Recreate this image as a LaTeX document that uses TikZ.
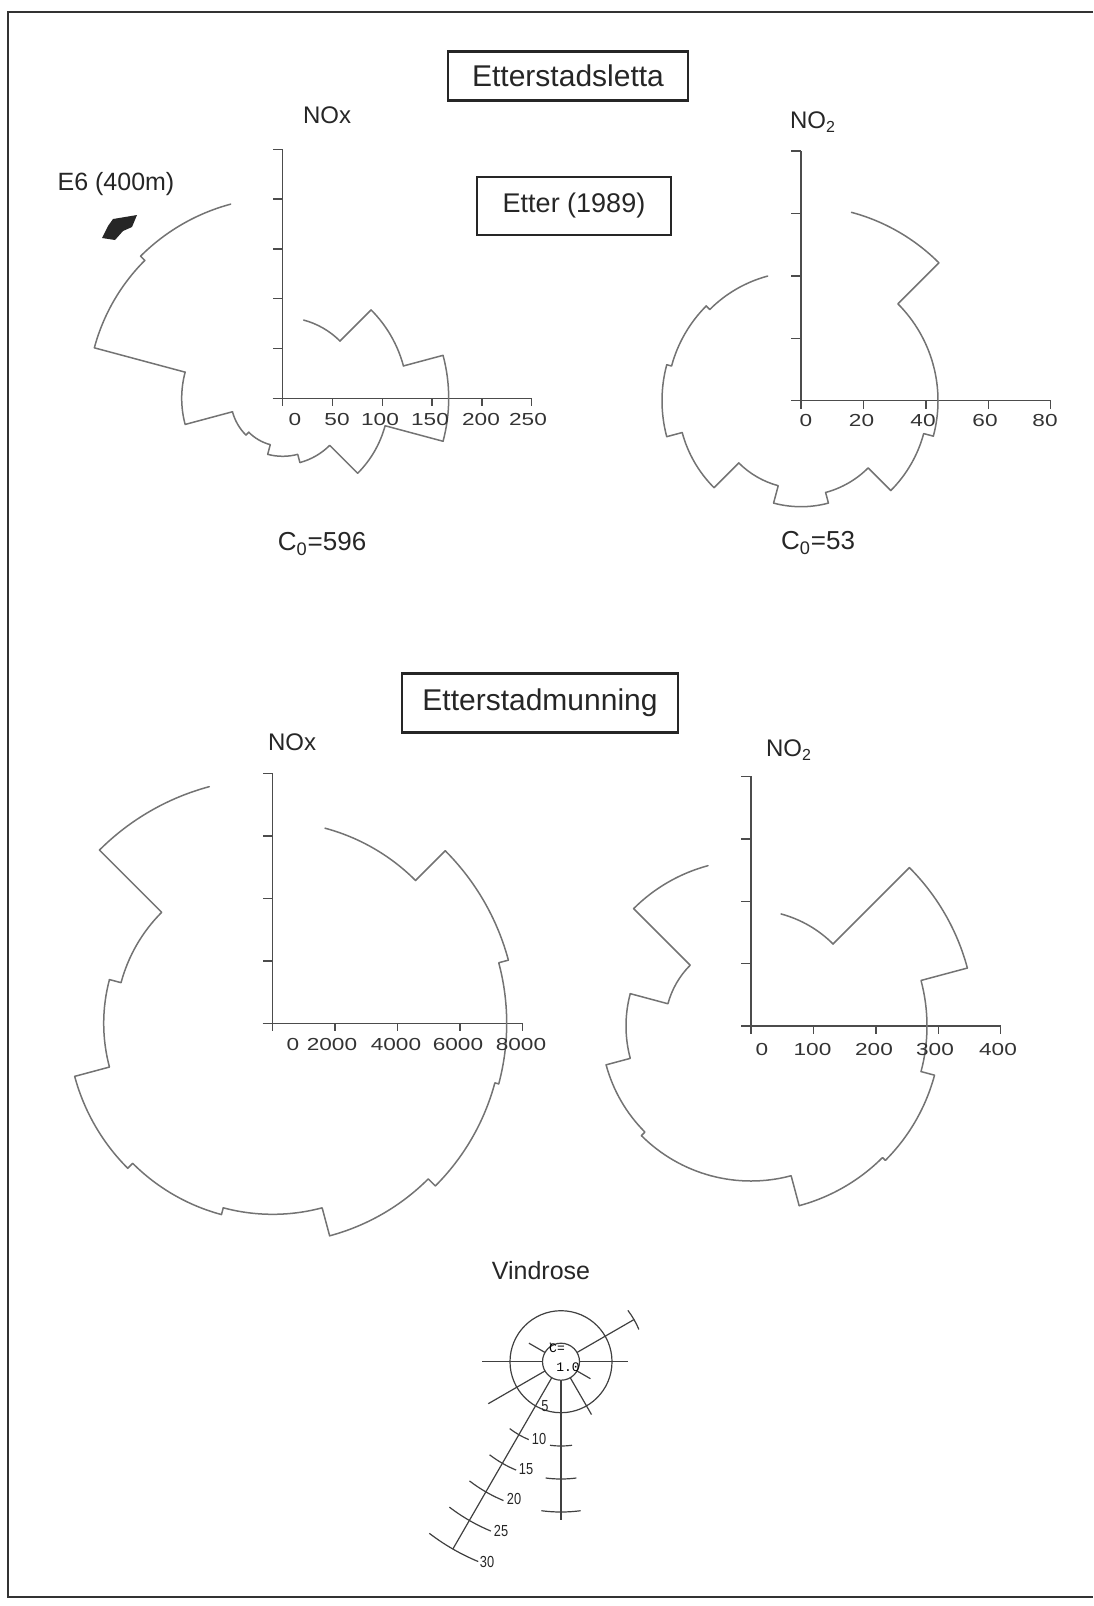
\documentclass[tikz,border=0pt]{standalone}
\usepackage{fontspec}
\setmainfont{Liberation Sans}
\setmonofont{Liberation Mono}
\newfontfamily\plotfont[FakeStretch=1.3]{Liberation Sans}
\newfontfamily\narrowfont[FakeStretch=0.8]{Liberation Sans}
\usepackage{tikz}
\tikzstyle{titlebox} = [rectangle, draw=black!85, line width=1.1pt, text=black!85, font=\fontsize{15}{18}\selectfont]
\tikzstyle{gas} = [text=black!85, font=\fontsize{12}{14}\selectfont]
\tikzstyle{ticklabel} = [text=black!80, inner sep=0pt, font=\plotfont\fontsize{8.7}{10}\selectfont]
\tikzstyle{axisline} = [draw=black!70, line width=0.7pt]
\tikzstyle{roseline} = [draw=black!55, line width=0.75pt, line cap=round, line join=round]
\tikzstyle{windline} = [draw=black!75, line width=0.6pt]
\tikzstyle{windlabel} = [text=black!85, inner sep=0pt, font=\narrowfont\fontsize{8}{9}\selectfont]
% axes of one rose: #1 intervals, #2 spacing
\newcommand{\roseaxes}[2]{%
  \draw[axisline] (-10,0) -- ({#1*#2},0);
  \draw[axisline] (0,-3) -- (0,{#1*#2});
  \foreach \k in {0,...,#1} {
    \draw[axisline] ({\k*#2},0) -- ({\k*#2},-8);
    \draw[axisline] (0,{\k*#2}) -- (-10,{\k*#2});
  }
}
% rose curve: 30 degree sectors clockwise from 75 degrees
\newcommand{\rosecurve}[2]{%
  \foreach \r [count=\i, remember=\r as \rp (initially #1)] in {#2} {
    \pgfmathsetmacro\sa{105-30*\i}
    \pgfmathsetmacro\ea{75-30*\i}
    \draw[roseline] (\sa:\rp) -- (\sa:\r) arc[start angle=\sa, end angle=\ea, radius=\r];
  }
}
\begin{document}
\begin{tikzpicture}[x=0.5pt, y=-0.5pt]
\useasboundingbox (0,0) rectangle (1093,1606);
\draw[line width=1.1pt, black!80] (1093,12) -- (8,12) -- (8,1597) -- (1093,1597);

% Place nodes
\node[titlebox, minimum width=120pt, minimum height=24.5pt] (sletta) at (568,76) {Etterstadsletta};
\node[titlebox, minimum width=97pt, minimum height=29pt, font=\fontsize{13.5}{16}\selectfont] (etter) at (574,206) {Etter (1989)};
\node[titlebox, minimum width=138pt, minimum height=29.5pt] (munning) at (540,703) {Etterstadmunning};
\node[gas] (noxA) at (327,115) {NOx};
\node[gas] (notoA) at (813,122) {NO\textsubscript{2}};
\node[gas, font=\fontsize{12.5}{14}\selectfont] (e6) at (116,184) {E6 (400m)};
\node[gas, font=\fontsize{13}{15}\selectfont] (cA) at (322,544) {C\textsubscript{0}=596};
\node[gas, font=\fontsize{13}{15}\selectfont] (cB) at (818,543) {C\textsubscript{0}=53};
\node[gas] (noxB) at (292,742) {NOx};
\node[gas] (notoB) at (789,750) {NO\textsubscript{2}};
\node[gas, font=\fontsize{12.5}{14}\selectfont] (vind) at (541,1271) {Vindrose};

% E6 marker
\fill[black!85] (102,238) -- (108,226) -- (113,219) -- (137,215) -- (132,227) -- (123,231) -- (115,240) -- cycle;

% Roses
\begin{scope}[shift={(282.7,398.3)}, yscale=-1]
  \roseaxes{5}{49.8}
  \rosecurve{81}{81,125,166,106,66.5,58,48,52,101,195,201}
\end{scope}
\begin{scope}[shift={(801,400.7)}, yscale=-1]
  \roseaxes{4}{62.4}
  \rosecurve{195}{195,137,137,127,95,106,88,123,139,134,129}
\end{scope}
\begin{scope}[shift={(272.7,1023.3)}, yscale=-1]
  \roseaxes{4}{62.4}
  \rosecurve{202}{202,244,234,230,220,191,198,205,169,157,245}
\end{scope}
\begin{scope}[shift={(751,1026)}, yscale=-1]
  \roseaxes{4}{62.4}
  \rosecurve{116}{116,224,176,190,186,155,155,150,125,86,166}
\end{scope}

% Tick labels
\foreach \x/\t [count=\i] in {295/0,337/50,380/100,430/150,481/200,528/250}
  \node[ticklabel] (tA\i) at (\x,420) {\t};
\foreach \x/\t [count=\i] in {806/0,861.5/20,923/40,985/60,1045/80}
  \node[ticklabel] (tB\i) at (\x,421) {\t};
\foreach \x/\t [count=\i] in {293/0,332/2000,396/4000,458/6000,521/8000}
  \node[ticklabel] (tC\i) at (\x,1044) {\t};
\foreach \x/\t [count=\i] in {762/0,812.5/100,874/200,935/300,998/400}
  \node[ticklabel] (tD\i) at (\x,1049) {\t};

% Wind rose
\begin{scope}[shift={(561,1361.7)}, yscale=-1]
  \draw[windline] (0,0) circle[radius=18.5];
  \draw[windline] (0,0) circle[radius=51];
  \foreach \a/\l in {0/67,30/84,120/22,150/37,180/79,210/84,240/216,270/158,300/61,330/34}
    \draw[windline] (\a:18.5) -- (\a:\l);
  \foreach \a/\rr in {240/84.3,240/117.3,240/150.3,240/183.3,240/216.3,270/84.3,270/117.3,270/150.3,30/84.3} {
    \pgfmathsetmacro\sa{\a-7.5}
    \pgfmathsetmacro\ea{\a+7.5}
    \draw[windline] (\sa:\rr) arc[start angle=\sa, end angle=\ea, radius=\rr];
  }
\end{scope}
\node[inner sep=0pt, font=\ttfamily\fontsize{6.5}{7}\selectfont] (calm) at (557,1348) {C=};
\node[inner sep=0pt, font=\ttfamily\fontsize{6.5}{7}\selectfont] (calmv) at (568,1367) {1.0};
\foreach \x/\y/\t [count=\i] in {545/1406/5,539/1439/10,526/1469/15,514/1499/20,501/1531/25,487/1562/30}
  \node[windlabel] (w\i) at (\x,\y) {\t};
\end{tikzpicture}
\end{document}
